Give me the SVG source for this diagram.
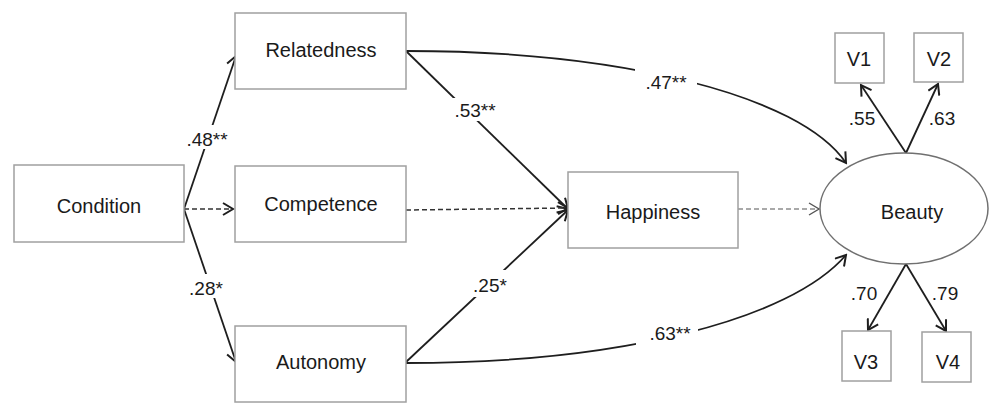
<svg xmlns="http://www.w3.org/2000/svg" width="989" height="403" viewBox="0 0 989 403">
<style>
  .box { fill: #fff; stroke: #a0a0a0; stroke-width: 1.5; }
  .ell { fill: #fff; stroke: #707070; stroke-width: 1.5; }
  .lbl { font-family: "Liberation Sans", Arial, sans-serif; font-size: 20px; fill: #1a1a1a; text-anchor: middle; }
  .num { font-family: "Liberation Sans", Arial, sans-serif; font-size: 19px; fill: #1a1a1a; text-anchor: middle; }
  .solid { fill: none; stroke: #1e1e1e; stroke-width: 1.8; marker-end: url(#arr); }
  .dash { fill: none; stroke: #333; stroke-width: 1.5; stroke-dasharray: 5 3; marker-end: url(#arr); }
  .dashl { fill: none; stroke: #555; stroke-width: 1.2; stroke-dasharray: 5 3; marker-end: url(#arrl); }
  .gap { fill: #fff; stroke: none; }
</style>
<defs>
  <marker id="arr" markerUnits="userSpaceOnUse" markerWidth="14" markerHeight="14" viewBox="-12 -7 14 14" refX="0" refY="0" orient="auto">
    <path d="M-10,-6 L0,0 L-10,6" fill="none" stroke="#1e1e1e" stroke-width="2"/>
  </marker>
  <marker id="arrl" markerUnits="userSpaceOnUse" markerWidth="14" markerHeight="14" viewBox="-12 -7 14 14" refX="0" refY="0" orient="auto">
    <path d="M-10,-6 L0,0 L-10,6" fill="none" stroke="#555" stroke-width="1.4"/>
  </marker>
</defs>
<rect width="989" height="403" fill="#fff"/>

<g id="connectors">
  <path class="solid" d="M184,209 L236,56"/>
  <path class="dash" d="M184,209 L233,209"/>
  <path class="solid" d="M184,209 L236,362"/>
  <path class="solid" d="M406,51 L568,209"/>
  <path class="dash" d="M406,210 L568,208"/>
  <path class="solid" d="M406,362 L568,210"/>
  <path class="solid" d="M406,51 C620,51 800,95 846,163"/>
  <path class="solid" d="M406,363 C620,363 790,320 846,255"/>
  <path class="dashl" d="M738,209 L819,209"/>
  <path class="solid" d="M906,153 L861,85"/>
  <path class="solid" d="M906,153 L938,84"/>
  <path class="solid" d="M906,264 L868,330"/>
  <path class="solid" d="M906,264 L946,331"/>
</g>

<g id="labels">
  <rect class="gap" x="186" y="125" width="42" height="24"/>
  <text class="num" x="207" y="146">.48**</text>
  <rect class="gap" x="188" y="274" width="36" height="24"/>
  <text class="num" x="206" y="295">.28*</text>
  <rect class="gap" x="452" y="98" width="46" height="23"/>
  <text class="num" x="475" y="117">.53**</text>
  <rect class="gap" x="635" y="68" width="62" height="22"/>
  <text class="num" x="666" y="89">.47**</text>
  <rect class="gap" x="472" y="270" width="36" height="27"/>
  <text class="num" x="490" y="292">.25*</text>
  <rect class="gap" x="636" y="322" width="62" height="23"/>
  <text class="num" x="670" y="340">.63**</text>
  <text class="num" x="862" y="125">.55</text>
  <text class="num" x="942" y="125">.63</text>
  <text class="num" x="864" y="300">.70</text>
  <text class="num" x="945" y="300">.79</text>
</g>

<g id="condition"><rect class="box" x="14" y="165" width="170" height="77"/><text class="lbl" x="99" y="213">Condition</text></g>
<g id="relatedness"><rect class="box" x="235" y="13" width="171" height="76"/><text class="lbl" x="321" y="57">Relatedness</text></g>
<g id="competence"><rect class="box" x="235" y="166" width="171" height="76"/><text class="lbl" x="321" y="211">Competence</text></g>
<g id="autonomy"><rect class="box" x="235" y="326" width="171" height="76"/><text class="lbl" x="321" y="369">Autonomy</text></g>
<g id="happiness"><rect class="box" x="568" y="172" width="170" height="76"/><text class="lbl" x="653" y="219">Happiness</text></g>
<g id="beauty"><ellipse class="ell" cx="904" cy="208.5" rx="84" ry="55.5"/><text class="lbl" x="912" y="219">Beauty</text></g>
<g id="v1"><rect class="box" x="835" y="33" width="49" height="50"/><text class="lbl" x="859" y="66">V1</text></g>
<g id="v2"><rect class="box" x="914" y="33" width="49" height="49"/><text class="lbl" x="939" y="66">V2</text></g>
<g id="v3"><rect class="box" x="842" y="331" width="49" height="50"/><text class="lbl" x="866" y="369">V3</text></g>
<g id="v4"><rect class="box" x="922" y="332" width="49" height="50"/><text class="lbl" x="948" y="369">V4</text></g>
</svg>
